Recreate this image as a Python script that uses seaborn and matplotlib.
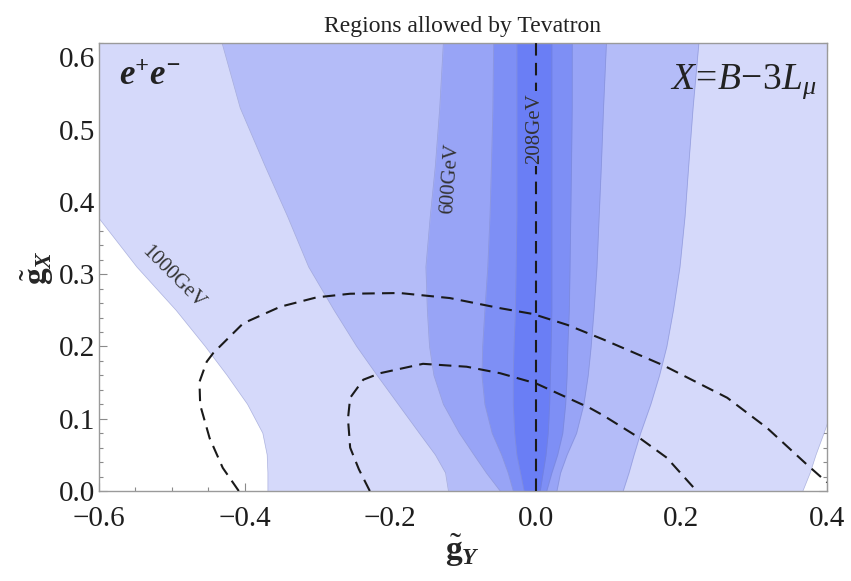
import numpy as np
import pandas as pd
import matplotlib
matplotlib.use("Agg")
import matplotlib.pyplot as plt
from matplotlib.ticker import MultipleLocator
import seaborn as sns

# heights (g_X) at which the edges of the allowed bands are sampled
gx_samples = [0.0, 0.025, 0.05, 0.08, 0.12, 0.16, 0.2, 0.25, 0.31, 0.38, 0.45, 0.53, 0.62]

# left / right g_Y edges of each allowed band, outermost (1000 GeV) first
band1_left = [-0.368, -0.368, -0.369, -0.375, -0.396, -0.424, -0.454, -0.494, -0.548, -0.602, -0.66, -0.72, -0.79]
band1_right = [0.367, 0.377, 0.385, 0.396, 0.41, 0.42, 0.43, 0.44, 0.45, 0.46, 0.47, 0.475, 0.48]
band2_left = [-0.120, -0.124, -0.138, -0.160, -0.189, -0.218, -0.246, -0.277, -0.312, -0.341, -0.372, -0.406, -0.431]
band2_right = [0.120, 0.128, 0.135, 0.144, 0.158, 0.170, 0.180, 0.189, 0.198, 0.205, 0.210, 0.216, 0.224]
band3_left = [-0.049, -0.068, -0.085, -0.105, -0.127, -0.140, -0.146, -0.149, -0.151, -0.145, -0.138, -0.132, -0.127]
band3_right = [0.029, 0.034, 0.043, 0.056, 0.066, 0.072, 0.076, 0.080, 0.084, 0.087, 0.090, 0.093, 0.097]
band4_left = [-0.031, -0.038, -0.047, -0.060, -0.070, -0.074, -0.073, -0.070, -0.066, -0.063, -0.061, -0.059, -0.058]
band4_right = [0.015, 0.022, 0.030, 0.037, 0.041, 0.043, 0.044, 0.046, 0.047, 0.048, 0.049, 0.050, 0.050]
band5_left = [-0.016, -0.021, -0.026, -0.029, -0.031, -0.031, -0.030, -0.028, -0.027, -0.026, -0.026, -0.026, -0.026]
band5_right = [0.006, 0.010, 0.014, 0.017, 0.019, 0.020, 0.021, 0.022, 0.022, 0.022, 0.022, 0.022, 0.022]

band_colors = ["#d5d9fa", "#b4bcf8", "#98a4f6", "#7e8ff5", "#6a7ef5"]

# dashed contours (g_Y, g_X)
outer_gy = [-0.408, -0.430, -0.448, -0.461, -0.462, -0.452, -0.443, -0.402, -0.351, -0.301,
            -0.255, -0.187, -0.118, -0.049, -0.004, 0.043, 0.092, 0.175, 0.263, 0.318, 0.373, 0.400]
outer_gx = [0.0, 0.032, 0.073, 0.119, 0.151, 0.179, 0.191, 0.232, 0.255, 0.268,
            0.273, 0.274, 0.267, 0.253, 0.245, 0.230, 0.210, 0.174, 0.129, 0.087, 0.036, 0.012]
inner_gy = [-0.228, -0.243, -0.255, -0.258, -0.255, -0.237, -0.214, -0.155, -0.095, -0.049,
            0.000, 0.074, 0.092, 0.143, 0.180, 0.221]
inner_gx = [0.0, 0.030, 0.060, 0.100, 0.129, 0.154, 0.163, 0.176, 0.172, 0.163,
            0.149, 0.115, 0.105, 0.073, 0.046, 0.0]
axis_line_gy = [0.0, 0.0]
axis_line_gx = [0.0, 0.62]

x_ticks = [-0.6, -0.4, -0.2, 0.0, 0.2, 0.4]
y_ticks = [0.0, 0.1, 0.2, 0.3, 0.4, 0.5, 0.6]

sns.set_theme(style="ticks")
plt.rcParams["font.family"] = ["Liberation Serif", "DejaVu Serif"]
plt.rcParams["mathtext.fontset"] = "custom"
plt.rcParams["mathtext.rm"] = "Liberation Serif"
plt.rcParams["mathtext.it"] = "Liberation Serif:italic"
plt.rcParams["mathtext.bf"] = "Liberation Serif:bold"
plt.rcParams["mathtext.bfit"] = "Liberation Serif:italic:bold"

fig = plt.figure(figsize=(8.51, 5.81), dpi=100)
ax = fig.add_axes([99 / 851, 90 / 581, 728 / 851, 448 / 581])

bands = [
    (band1_left, band1_right),
    (band2_left, band2_right),
    (band3_left, band3_right),
    (band4_left, band4_right),
    (band5_left, band5_right),
]
for (left, right), col in zip(bands, band_colors):
    ax.fill_betweenx(gx_samples, left, right, color=col, lw=0, zorder=1)
    for edge in (left, right):
        ax.plot(edge, gx_samples, color="#7d86c6", lw=0.5, alpha=0.55, zorder=2)

dash_kw = dict(color="#1a1a1a", lw=1.5, dashes=(6, 3.5), zorder=3, sort=False,
               estimator=None, legend=False)
sns.lineplot(data=pd.DataFrame({"gy": outer_gy, "gx": outer_gx}), x="gy", y="gx", ax=ax, **dash_kw)
sns.lineplot(data=pd.DataFrame({"gy": inner_gy, "gx": inner_gx}), x="gy", y="gx", ax=ax, **dash_kw)
sns.lineplot(data=pd.DataFrame({"gy": axis_line_gy, "gx": axis_line_gx}), x="gy", y="gx", ax=ax, **dash_kw)

# contour labels
lab_kw = dict(fontsize=15, color="#333333", ha="center", va="center", zorder=4)
ax.text(-0.498, 0.295, "1000GeV", rotation=-45, **lab_kw)
ax.text(-0.118, 0.432, "600GeV", rotation=86, **lab_kw)
ax.text(-0.002, 0.502, "208GeV", rotation=90,
        bbox=dict(boxstyle="square,pad=0.1", fc=band_colors[4], ec="none"), **lab_kw)

ax.text(-0.530, 0.574, r"$\mathbfit{e^{+}e^{-}}$", fontsize=25, ha="center", va="center",
        color="#222222", zorder=4)
ax.text(0.386, 0.566, r"$X\!=\!B\!-\!3L_{\mu}$", fontsize=27, ha="right", va="center",
        color="#222222", zorder=4)

ax.set_xlim(-0.6, 0.4)
ax.set_ylim(0.0, 0.62)
ax.set_xticks(x_ticks)
ax.set_yticks(y_ticks)
ax.set_xticklabels([f"{v:.1f}".replace("-", "\u2212") for v in x_ticks])
ax.set_yticklabels([f"{v:.1f}" for v in y_ticks])
ax.xaxis.set_minor_locator(MultipleLocator(0.05))
ax.yaxis.set_minor_locator(MultipleLocator(0.02))
ax.tick_params(which="both", direction="in", top=True, right=True, color="#8a8a8a", width=0.8)
ax.tick_params(which="major", length=6, labelsize=21, labelcolor="#1e1e1e")
ax.tick_params(which="minor", length=3)
ax.tick_params(axis="x", pad=11)
ax.tick_params(axis="y", pad=3)
for sp in ax.spines.values():
    sp.set_color("#9a9a9a")
    sp.set_linewidth(1.0)

ax.set_xlabel(r"$\tilde{\mathbf{g}}_{\mathbfit{Y}}$", fontsize=24, labelpad=0)
ax.set_ylabel(r"$\tilde{\mathbf{g}}_{\mathbfit{X}}$", fontsize=24, labelpad=2)
ax.set_title("Regions allowed by Tevatron", fontsize=17, pad=8, color="#222222")

fig.savefig("out.png", dpi=100)
